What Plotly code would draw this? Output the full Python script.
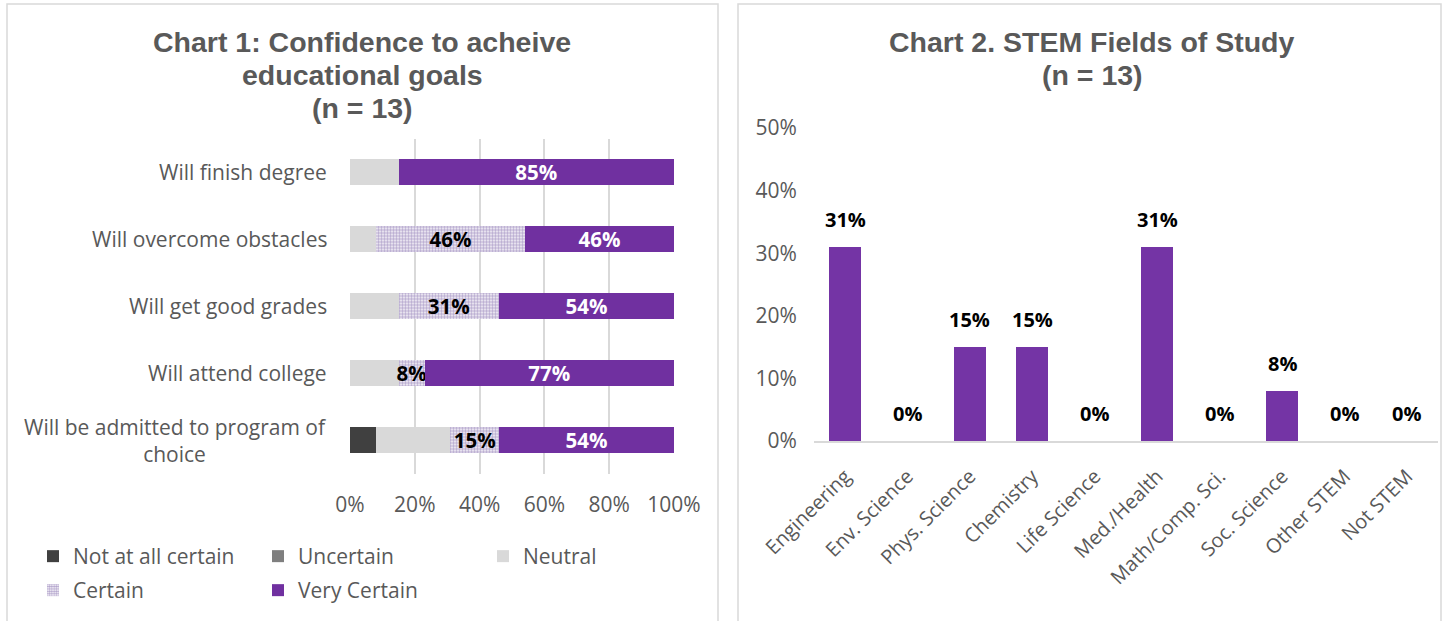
import plotly.graph_objects as go

# ---------------- Data ----------------
cats1 = ["Will finish degree", "Will overcome obstacles", "Will get good grades",
         "Will attend college", "Will be admitted to program of choice"]
cat1_labels = ["Will finish degree", "Will overcome obstacles", "Will get good grades",
               "Will attend college", "Will be admitted to program of<br>choice"]
not_at_all = [0, 0, 0, 0, 8]
uncertain = [0, 0, 0, 0, 0]
neutral = [15, 8, 15, 15, 23]
certain = [0, 46, 31, 8, 15]
very_certain = [85, 46, 54, 77, 54]
x1_ticks = [0, 20, 40, 60, 80, 100]
x1_ticktext = ["0%", "20%", "40%", "60%", "80%", "100%"]

cats2 = ["Engineering", "Env. Science", "Phys. Science", "Chemistry", "Life Science",
         "Med./Health", "Math/Comp. Sci.", "Soc. Science", "Other STEM", "Not STEM"]
stem_pct = [31, 0, 15, 15, 0, 31, 0, 8, 0, 0]
y2_ticks = [0, 10, 20, 30, 40, 50]
y2_ticktext = ["0%", "10%", "20%", "30%", "40%", "50%"]

title1_lines = ["Chart 1: Confidence to acheive", "educational goals", "(n = 13)"]
title2_lines = ["Chart 2. STEM Fields of Study", "(n = 13)"]

W, H = 1448, 621
BODY = "'Open Sans', sans-serif"
GRAY = "#595959"
PURPLE = "#7030a0"

def px(x):
    return x / W

def py(y):
    return 1 - y / H

fig = go.Figure()

def lbl(vals):
    return [f"{v}%" if v > 0 else "" for v in vals]

series = [
    ("Not at all certain", not_at_all, dict(color="#404040"), None),
    ("Uncertain", uncertain, dict(color="#7f7f7f"), None),
    ("Neutral", neutral, dict(color="#d9d9d9"), None),
    ("Certain", certain, dict(color="white",
                              pattern=dict(shape=".", fgcolor="#654799", bgcolor="white",
                                           size=3, solidity=0.65, fillmode="overlay")), "black"),
    ("Very Certain", very_certain, dict(color=PURPLE), "white"),
]
for i, (name, vals, marker, tcol) in enumerate(series):
    kw = {}
    if tcol:
        kw = dict(text=lbl(vals), textposition="inside", insidetextanchor="middle",
                  constraintext="none", textangle=0,
                  textfont=dict(family=BODY, size=20.5, color=tcol, weight="bold"))
    fig.add_trace(go.Bar(
        y=cats1, x=vals, orientation="h", name=name, marker=dict(line=dict(width=0), **marker),
        width=0.39, xaxis="x", yaxis="y",
        legend="legend" if i < 3 else "legend2", **kw))

fig.add_trace(go.Bar(
    x=cats2, y=stem_pct, width=0.51, xaxis="x2", yaxis="y2", showlegend=False,
    marker=dict(color="#7434a5", line=dict(width=0)),
))

annotations = []
# Chart 1 category labels (centered multi-line)
for c, t in zip(cats1, cat1_labels):
    annotations.append(dict(x=px(329), xref="paper", y=c, yref="y", text=t,
                            xanchor="right", yanchor="middle", align="center",
                            showarrow=False, font=dict(family=BODY, size=21, color=GRAY)))
# Chart 2 value labels
for c, v in zip(cats2, stem_pct):
    annotations.append(dict(x=c, xref="x2", y=v, yref="y2", text=f"{v}%",
                            yanchor="bottom", yshift=12, showarrow=False,
                            font=dict(family=BODY, size=20, color="black", weight="bold")))
# Titles (one annotation per line for tight line spacing)
TFONT = dict(family="Liberation Sans, Arial", size=28.5, color=GRAY, weight="bold")
for line, yy in zip(title1_lines, [42, 75, 108]):
    annotations.append(dict(x=px(362), y=py(yy), xref="paper", yref="paper", xanchor="center",
                            yanchor="middle", text=line, showarrow=False, font=TFONT))
for line, yy in zip(title2_lines, [42, 75]):
    annotations.append(dict(x=px(1092), y=py(yy), xref="paper", yref="paper", xanchor="center",
                            yanchor="middle", text=line, showarrow=False, font=TFONT))

shapes = [
    dict(type="rect", xref="paper", yref="paper", x0=px(7), x1=px(718), y0=-0.05, y1=py(4),
         line=dict(color="#d9d9d9", width=1.5), fillcolor="rgba(0,0,0,0)", layer="below"),
    dict(type="rect", xref="paper", yref="paper", x0=px(738), x1=px(1441), y0=-0.05, y1=py(4),
         line=dict(color="#d9d9d9", width=1.5), fillcolor="rgba(0,0,0,0)", layer="below"),
]

leg_common = dict(orientation="h", xanchor="left", yanchor="top", traceorder="normal",
                  entrywidth=180, entrywidthmode="pixels",
                  font=dict(family=BODY, size=21, color=GRAY),
                  itemclick=False, bgcolor="rgba(0,0,0,0)")

fig.update_layout(
    width=W, height=H, margin=dict(l=0, r=0, t=0, b=0, autoexpand=False),
    paper_bgcolor="white", plot_bgcolor="white",
    barmode="stack",
    showlegend=True,
    annotations=annotations, shapes=shapes,
    xaxis=dict(domain=[px(350), px(674)], range=[0, 100], tickvals=x1_ticks, ticktext=x1_ticktext,
               showgrid=True, gridcolor="#d9d9d9", gridwidth=1.5, zeroline=False, showline=False,
               ticks="", tickfont=dict(family=BODY, size=21, color=GRAY), anchor="y",
               ticklabelstandoff=16, automargin=False),
    yaxis=dict(domain=[py(473.5), py(138.5)], categoryorder="array", categoryarray=cats1,
               autorange="reversed", showticklabels=False, showgrid=False, zeroline=False,
               anchor="x", automargin=False),
    xaxis2=dict(domain=[px(813.8), px(1438.2)], anchor="y2", showline=True, linecolor="#d9d9d9",
                linewidth=1.5, tickangle=-45, ticks="", showgrid=False, automargin=False,
                tickfont=dict(family=BODY, size=20, color=GRAY), ticklabelstandoff=14),
    yaxis2=dict(domain=[py(441), py(128)], range=[0, 50], tickvals=y2_ticks, ticktext=y2_ticktext,
                showgrid=False, zeroline=False, showline=False, ticks="", anchor="x2",
                tickfont=dict(family=BODY, size=21, color=GRAY), ticklabelstandoff=16,
                automargin=False),
    legend=dict(x=px(33), y=py(536), **leg_common),
    legend2=dict(x=px(33), y=py(570), **leg_common),
)

fig.write_html("out.html")
